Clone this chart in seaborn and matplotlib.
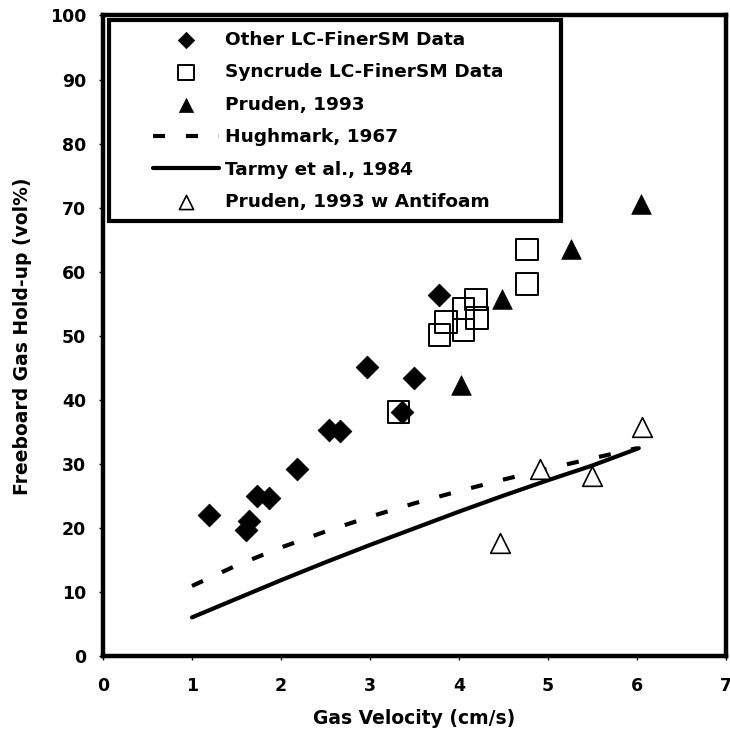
import matplotlib
matplotlib.use("Agg")
import matplotlib.pyplot as plt
import seaborn as sns
from matplotlib.patches import Rectangle

# ---------------- data ----------------
other_x = [1.19, 1.61, 1.64, 1.73, 1.86, 2.18, 2.54, 2.66, 2.97, 3.36, 3.49, 3.77]
other_y = [22.1, 19.8, 21.1, 25.0, 24.8, 29.3, 35.4, 35.2, 45.1, 38.1, 43.4, 56.4]

sync_x = [3.32, 3.78, 3.85, 4.05, 4.05, 4.19, 4.20, 4.76, 4.76]
sync_y = [38.1, 50.2, 52.2, 50.9, 54.3, 55.7, 52.8, 58.1, 63.5]

pruden_x = [4.02, 4.48, 5.26, 6.05]
pruden_y = [42.4, 55.8, 63.5, 70.6]

hugh_x = [1.0, 1.5, 2.0, 2.5, 3.0, 3.5, 4.0, 4.5, 5.0, 5.5, 6.0]
hugh_y = [11.0, 14.2, 17.0, 19.5, 21.8, 23.9, 25.8, 27.6, 29.3, 30.9, 32.5]

tarmy_x = [1.0, 1.5, 2.0, 2.5, 3.0, 3.5, 4.0, 4.5, 5.0, 5.5, 6.02]
tarmy_y = [6.1, 9.0, 11.9, 14.7, 17.4, 20.0, 22.6, 25.1, 27.5, 29.8, 32.5]

anti_x = [4.46, 4.91, 5.49, 6.06]
anti_y = [17.7, 29.25, 28.2, 35.8]

labels = ["Other LC-FinerSM Data", "Syncrude LC-FinerSM Data", "Pruden, 1993",
          "Hughmark, 1967", "Tarmy et al., 1984", "Pruden, 1993 w Antifoam"]
x_ticks = [0, 1, 2, 3, 4, 5, 6, 7]
y_ticks = [0, 10, 20, 30, 40, 50, 60, 70, 80, 90, 100]

# ---------------- style ----------------
sns.set_theme(style="white")
plt.rcParams["font.family"] = ["DejaVu Sans"]
plt.rcParams["font.weight"] = "bold"
plt.rcParams["axes.labelweight"] = "bold"

fig = plt.figure(figsize=(7.3, 7.34), dpi=100)
ax = fig.add_axes([0.1411, 0.1056, 0.8534, 0.8733])

sns.scatterplot(x=other_x, y=other_y, marker="D", s=135, color="black",
                edgecolor="black", linewidth=0.5, ax=ax, label=labels[0], zorder=3)
sns.scatterplot(x=sync_x, y=sync_y, marker="s", s=245, color="black", facecolor="none",
                edgecolor="black", linewidth=1.4, ax=ax, label=labels[1], zorder=3)
sns.scatterplot(x=pruden_x, y=pruden_y, marker="^", s=200, color="black",
                edgecolor="black", linewidth=0.5, ax=ax, label=labels[2], zorder=3)
sns.lineplot(x=hugh_x, y=hugh_y, color="black", lw=3.0, linestyle=(0, (2.9, 5.0)),
             ax=ax, label=labels[3], zorder=2)
sns.lineplot(x=tarmy_x, y=tarmy_y, color="black", lw=3.0, ax=ax, label=labels[4], zorder=2)
sns.scatterplot(x=anti_x, y=anti_y, marker="^", s=200, color="black", facecolor="white",
                edgecolor="black", linewidth=1.2, ax=ax, label=labels[5], zorder=3)

ax.set_xlim(0, 7)
ax.set_ylim(0, 100)
ax.set_xticks(x_ticks)
ax.set_yticks(y_ticks)
ax.tick_params(axis="both", direction="out", length=3, width=1, colors="black",
               labelsize=12.5, bottom=True, left=True)
ax.tick_params(axis="x", pad=12)
ax.tick_params(axis="y", pad=9)
for lab in ax.get_xticklabels() + ax.get_yticklabels():
    lab.set_fontweight("bold")

for sp in ax.spines.values():
    sp.set_linewidth(3.2)
    sp.set_color("black")

ax.set_xlabel("Gas Velocity (cm/s)", fontsize=13.5, fontweight="bold", color="black")
ax.set_ylabel("Freeboard Gas Hold-up (vol%)", fontsize=13.5, fontweight="bold", color="black")
ax.xaxis.set_label_coords(0.5, -0.082)
ax.yaxis.set_label_coords(-0.114, 0.5)

# legend with its own box
handles, labs = ax.get_legend_handles_labels()
leg = ax.legend(handles, labs, loc="upper left", bbox_to_anchor=(0.080, 0.976),
                frameon=False, borderaxespad=0, borderpad=0, fontsize=13.3,
                handlelength=3.6, handletextpad=0.3, labelspacing=0.78,
                markerscale=0.72)
for t in leg.get_texts():
    t.set_fontweight("bold")
    t.set_color("black")

box = Rectangle((0.0104, 0.679), 0.7246, 0.314, transform=ax.transAxes,
                fill=False, lw=3.0, ec="black", zorder=5, clip_on=False)
ax.add_patch(box)

fig.savefig("out.png", dpi=100)
